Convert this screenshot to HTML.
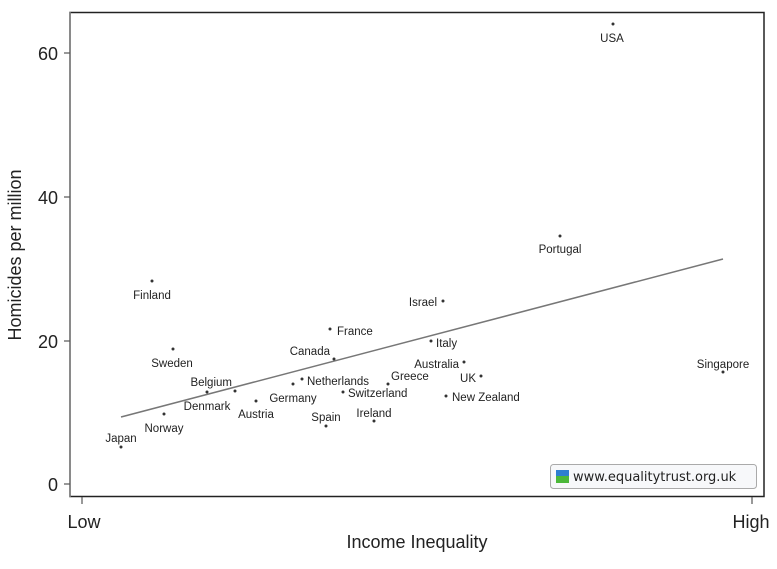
<!DOCTYPE html>
<html><head><meta charset="utf-8"><style>
body{margin:0;background:#fff}
svg text{font-family:"Liberation Sans",Arial,sans-serif;fill:#222}
</style></head><body>
<svg width="777" height="564" xmlns="http://www.w3.org/2000/svg">
<rect x="70" y="12.5" width="694" height="484" fill="#fff" stroke="#222" stroke-width="1.5"/>
<line x1="70" y1="12" x2="70" y2="497" stroke="#888" stroke-width="1.5"/>
<g stroke="#555" stroke-width="1.2">
<line x1="64" y1="53" x2="70" y2="53"/><line x1="64" y1="197" x2="70" y2="197"/>
<line x1="64" y1="341" x2="70" y2="341"/><line x1="64" y1="484" x2="70" y2="484"/>
<line x1="82" y1="497" x2="82" y2="504"/><line x1="752" y1="497" x2="752" y2="504"/>
</g>
<g font-size="18" text-anchor="end">
<text x="58" y="60">60</text><text x="58" y="204">40</text>
<text x="58" y="348">20</text><text x="58" y="491">0</text>
</g>
<g font-size="18" text-anchor="middle">
<text x="84" y="528">Low</text><text x="751" y="528">High</text>
<text x="417" y="548">Income Inequality</text>
<text transform="translate(21,255) rotate(-90)">Homicides per million</text>
</g>
<line x1="121" y1="417" x2="723" y2="259" stroke="#777" stroke-width="1.5"/>
<g fill="#333">
<circle cx="613" cy="24" r="1.5"/><circle cx="560" cy="236" r="1.5"/><circle cx="152" cy="281" r="1.5"/>
<circle cx="443" cy="301" r="1.5"/><circle cx="330" cy="329" r="1.5"/><circle cx="173" cy="349" r="1.5"/>
<circle cx="431" cy="341" r="1.5"/><circle cx="334" cy="359" r="1.5"/><circle cx="464" cy="362" r="1.5"/>
<circle cx="723" cy="372" r="1.5"/><circle cx="481" cy="376" r="1.5"/><circle cx="388" cy="384" r="1.5"/>
<circle cx="302" cy="379" r="1.5"/><circle cx="293" cy="384" r="1.5"/><circle cx="207" cy="392" r="1.5"/>
<circle cx="235" cy="391" r="1.5"/><circle cx="256" cy="401" r="1.5"/><circle cx="343" cy="392" r="1.5"/>
<circle cx="446" cy="396" r="1.5"/><circle cx="164" cy="414" r="1.5"/><circle cx="326" cy="426" r="1.5"/>
<circle cx="374" cy="421" r="1.5"/><circle cx="121" cy="447" r="1.5"/>
</g>
<g font-size="11.5">
<text x="612" y="42" text-anchor="middle">USA</text>
<text x="560" y="253" text-anchor="middle">Portugal</text>
<text x="152" y="299" text-anchor="middle">Finland</text>
<text x="437" y="306" text-anchor="end">Israel</text>
<text x="337" y="335">France</text>
<text x="172" y="367" text-anchor="middle">Sweden</text>
<text x="436" y="347">Italy</text>
<text x="330" y="355" text-anchor="end">Canada</text>
<text x="459" y="368" text-anchor="end">Australia</text>
<text x="723" y="368" text-anchor="middle">Singapore</text>
<text x="476" y="382" text-anchor="end">UK</text>
<text x="391" y="380">Greece</text>
<text x="307" y="385">Netherlands</text>
<text x="232" y="386" text-anchor="end">Belgium</text>
<text x="293" y="402" text-anchor="middle">Germany</text>
<text x="207" y="410" text-anchor="middle">Denmark</text>
<text x="256" y="418" text-anchor="middle">Austria</text>
<text x="348" y="397">Switzerland</text>
<text x="452" y="401">New Zealand</text>
<text x="164" y="432" text-anchor="middle">Norway</text>
<text x="326" y="421" text-anchor="middle">Spain</text>
<text x="374" y="417" text-anchor="middle">Ireland</text>
<text x="121" y="442" text-anchor="middle">Japan</text>
</g>
<rect x="550.5" y="464.5" width="206" height="24" rx="3" fill="#f7f8fa" stroke="#aaa"/>
<rect x="556" y="470" width="13" height="6" fill="#2f7fd0"/>
<rect x="556" y="476" width="13" height="7" fill="#4cb83a"/>
<text x="573" y="481" font-size="13" style="font-family:'DejaVu Sans',sans-serif">www.equalitytrust.org.uk</text>
</svg>
</body></html>
